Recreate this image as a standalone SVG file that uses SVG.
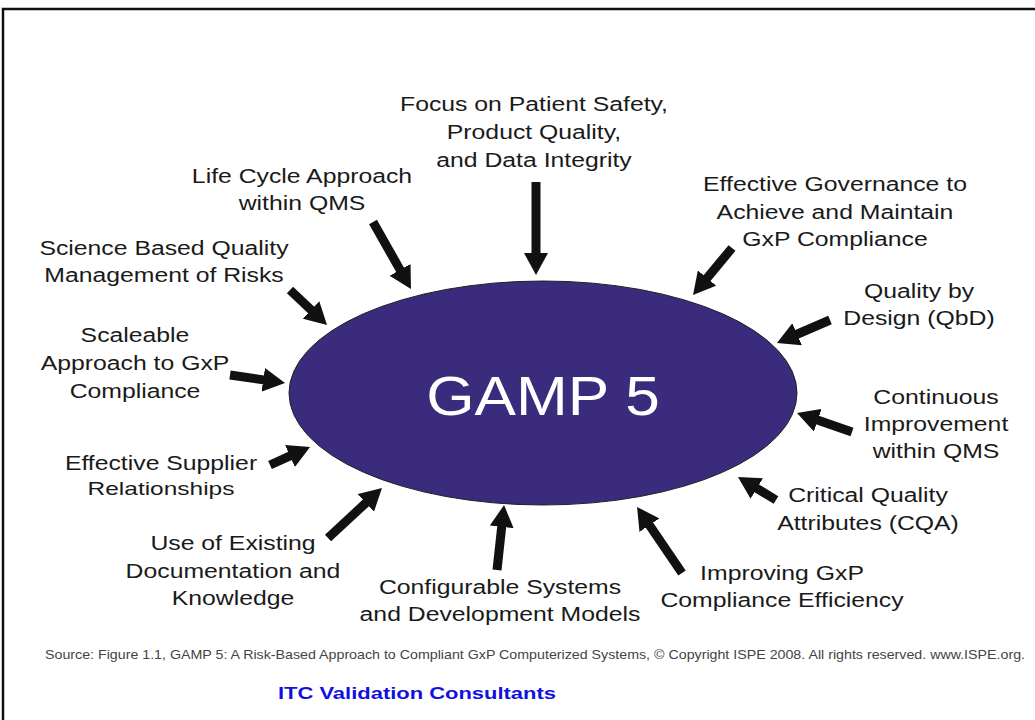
<svg xmlns="http://www.w3.org/2000/svg" width="1035" height="720" viewBox="0 0 1035 720">
<style>
.t{font-family:"Liberation Sans",Arial,sans-serif;font-size:21px;fill:#1a1a1a;text-anchor:middle}
.c{stroke:#111;stroke-width:9;fill:none;marker-end:url(#ah)}
</style>
<defs>
<marker id="ah" markerUnits="userSpaceOnUse" markerWidth="22" markerHeight="24" refX="2" refY="12" orient="auto" viewBox="0 0 22 24">
<path d="M0,0 L22,12 L0,24 z" fill="#111"/>
</marker>
</defs>
<rect width="1035" height="720" fill="#fff"/>
<path d="M3,720 L3,9 L1035,9" fill="none" stroke="#111" stroke-width="2.5"/>
<g id="center">
<ellipse cx="543" cy="393" rx="254" ry="112" fill="#3a2b7c" stroke="#222" stroke-width="1"/>
<text transform="translate(543 415) scale(1.11 1)" x="0" y="0" style="font-family:'Liberation Sans',Arial,sans-serif;font-size:56px;fill:#fff;text-anchor:middle">GAMP 5</text>
</g>
<g id="connectors">
<line class="c" x1="536" y1="182" x2="536" y2="255"/>
<line class="c" x1="373" y1="222" x2="401.1" y2="271.6"/>
<line class="c" x1="290" y1="290" x2="312.5" y2="311.3"/>
<line class="c" x1="230" y1="375" x2="265.2" y2="380.1"/>
<line class="c" x1="270" y1="465" x2="291.8" y2="455.2"/>
<line class="c" x1="328" y1="538" x2="367.3" y2="501.6"/>
<line class="c" x1="497" y1="570" x2="501.9" y2="524.9"/>
<line class="c" x1="682" y1="573" x2="648.3" y2="523.5"/>
<line class="c" x1="776" y1="500" x2="755.1" y2="487.4"/>
<line class="c" x1="852" y1="432" x2="815.9" y2="419.5"/>
<line class="c" x1="830" y1="320" x2="795.3" y2="335"/>
<line class="c" x1="732" y1="248" x2="705.8" y2="279.6"/>
</g>
<g id="n-focus" transform="translate(534 0) scale(1.18 1)"><text class="t"><tspan x="0" y="111">Focus on Patient Safety,</tspan><tspan x="0" y="139">Product Quality,</tspan><tspan x="0" y="167">and Data Integrity</tspan></text></g>
<g id="n-lifecycle" transform="translate(302 0) scale(1.18 1)"><text class="t"><tspan x="0" y="183">Life Cycle Approach</tspan><tspan x="0" y="210">within QMS</tspan></text></g>
<g id="n-governance" transform="translate(835 0) scale(1.18 1)"><text class="t"><tspan x="0" y="191">Effective Governance to</tspan><tspan x="0" y="219">Achieve and Maintain</tspan><tspan x="0" y="246">GxP Compliance</tspan></text></g>
<g id="n-science" transform="translate(164 0) scale(1.18 1)"><text class="t"><tspan x="0" y="255">Science Based Quality</tspan><tspan x="0" y="282">Management of Risks</tspan></text></g>
<g id="n-qbd" transform="translate(919 0) scale(1.18 1)"><text class="t"><tspan x="0" y="298">Quality by</tspan><tspan x="0" y="325">Design (QbD)</tspan></text></g>
<g id="n-scaleable" transform="translate(135 0) scale(1.18 1)"><text class="t"><tspan x="0" y="342">Scaleable</tspan><tspan x="0" y="370">Approach to GxP</tspan><tspan x="0" y="398">Compliance</tspan></text></g>
<g id="n-continuous" transform="translate(936 0) scale(1.18 1)"><text class="t"><tspan x="0" y="404">Continuous</tspan><tspan x="0" y="431">Improvement</tspan><tspan x="0" y="458">within QMS</tspan></text></g>
<g id="n-supplier"><text class="t" transform="translate(161 0) scale(1.18 1)" x="0" y="470">Effective Supplier</text><text class="t" transform="translate(161 0) scale(1.36 1)" x="0" y="495" style="font-size:18px">Relationships</text></g>
<g id="n-cqa" transform="translate(868 0) scale(1.18 1)"><text class="t"><tspan x="0" y="502">Critical Quality</tspan><tspan x="0" y="530">Attributes (CQA)</tspan></text></g>
<g id="n-existing" transform="translate(233 0) scale(1.18 1)"><text class="t"><tspan x="0" y="550">Use of Existing</tspan><tspan x="0" y="578">Documentation and</tspan><tspan x="0" y="605">Knowledge</tspan></text></g>
<g id="n-improving" transform="translate(782 0) scale(1.18 1)"><text class="t"><tspan x="0" y="580">Improving GxP</tspan><tspan x="0" y="607">Compliance Efficiency</tspan></text></g>
<g id="n-configurable" transform="translate(500 0) scale(1.18 1)"><text class="t"><tspan x="0" y="594">Configurable Systems</tspan><tspan x="0" y="621">and Development Models</tspan></text></g>
<g id="footer">
<text x="45" y="659" textLength="980" lengthAdjust="spacingAndGlyphs" style="font-family:'Liberation Sans',Arial,sans-serif;font-size:13px;fill:#444">Source: Figure 1.1, GAMP 5: A Risk-Based Approach to Compliant GxP Computerized Systems, © Copyright ISPE 2008. All rights reserved. www.ISPE.org.</text>
<text x="278" y="699" textLength="278" lengthAdjust="spacingAndGlyphs" style="font-family:'Liberation Sans',Arial,sans-serif;font-size:17px;font-weight:bold;fill:#1010e0">ITC Validation Consultants</text>
</g>
</svg>
